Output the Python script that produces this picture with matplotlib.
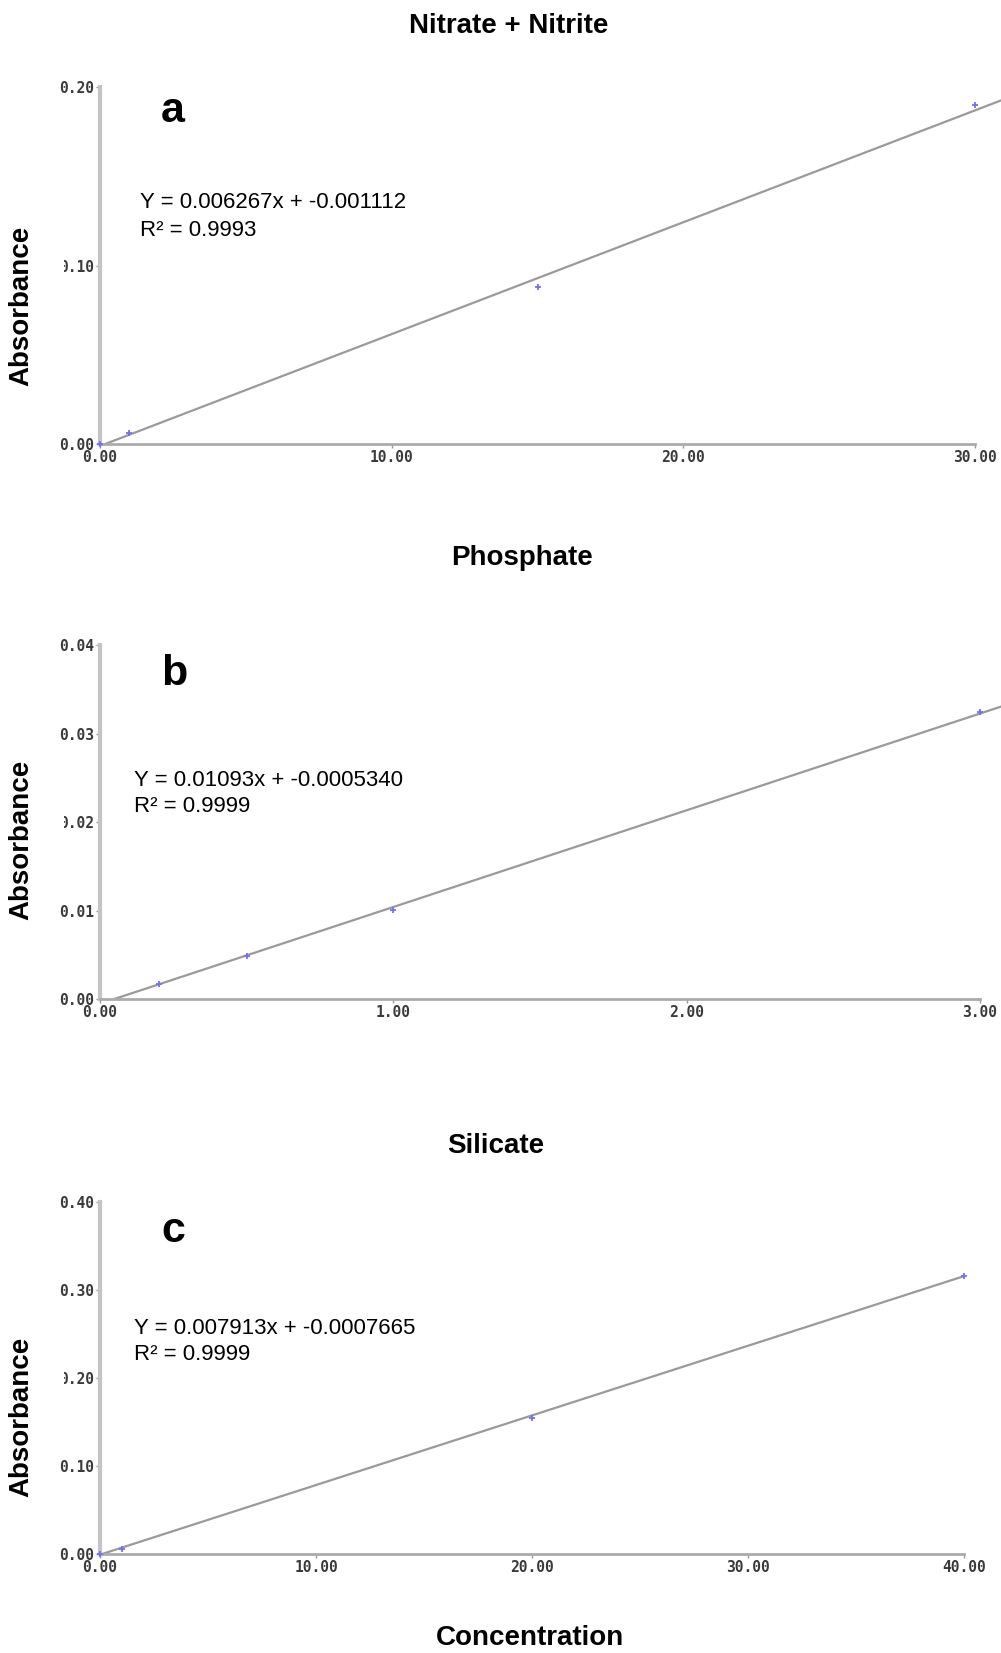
import matplotlib
matplotlib.use("Agg")
import matplotlib.pyplot as plt
from matplotlib.patches import Rectangle

titles = ["Nitrate + Nitrite", "Phosphate", "Silicate"]
panel_letters = ["a", "b", "c"]

a_x = [0, 1, 15, 30]
a_y = [0.0, 0.0062, 0.0882, 0.190]
b_x = [0.2, 0.5, 1.0, 3.0]
b_y = [0.0017, 0.0049, 0.0101, 0.0324]
c_x = [0, 1, 20, 40]
c_y = [0.0, 0.006, 0.155, 0.316]

slopes = [0.006267, 0.01093, 0.007913]
intercepts = [-0.001112, -0.0005340, -0.0007665]
eq_labels = ["Y = 0.006267x + -0.001112", "Y = 0.01093x + -0.0005340", "Y = 0.007913x + -0.0007665"]
r2_labels = ["R² = 0.9993", "R² = 0.9999", "R² = 0.9999"]

a_xticks = [0, 10, 20, 30]
b_xticks = [0, 1, 2, 3]
c_xticks = [0, 10, 20, 30, 40]
a_yticks = [0.0, 0.1, 0.2]
b_yticks = [0.0, 0.01, 0.02, 0.03, 0.04]
c_yticks = [0.0, 0.1, 0.2, 0.3, 0.4]
line_ends = [30.9, 3.1, 40.0]

W, H = 1001, 1653
fig = plt.figure(figsize=(W / 100, H / 100), dpi=100)

def fx(px):
    return px / W

def fy(py):
    return 1 - py / H

# axes boxes in pixel coords: left, right, top, bottom
boxes = [(100, 975, 87, 444), (100, 980, 645, 999), (100, 964, 1202, 1554)]
title_pos = [(509, 26), (522, 558), (496, 1146)]
letter_pos = [(173, 111), (174, 674), (173, 1231)]
eq_pos = [(140, 202, 230), (134, 780, 807), (134, 1328, 1355)]
ylabel_y = [306, 840, 1417]

xs = [a_x, b_x, c_x]
ys = [a_y, b_y, c_y]
xticks = [a_xticks, b_xticks, c_xticks]
yticks = [a_yticks, b_yticks, c_yticks]

tick_font = dict(family="DejaVu Sans Mono", weight="bold", size=10.5)

for i in range(3):
    l, r, t, b = boxes[i]
    ax = fig.add_axes([fx(l), fy(b), fx(r - l), (b - t) / H])
    xmax = xticks[i][-1]
    ymax = yticks[i][-1]
    ax.set_xlim(0, xmax)
    ax.set_ylim(0, ymax)
    for s in ["top", "right"]:
        ax.spines[s].set_visible(False)
    ax.spines["left"].set_color("#c4c4c4")
    ax.spines["left"].set_linewidth(3)
    ax.spines["bottom"].set_color("#ababab")
    ax.spines["bottom"].set_linewidth(2)
    ax.set_xticks(xticks[i])
    ax.set_yticks(yticks[i])
    ax.set_xticklabels([f"{v:.2f}" for v in xticks[i]], fontdict=tick_font, color="#3a3a3a")
    ax.set_yticklabels([f"{v:.2f}" for v in yticks[i]], fontdict=tick_font, color="#3a3a3a")
    ax.tick_params(axis="both", length=3, width=1, color="#999999", pad=1)

    m, c0 = slopes[i], intercepts[i]
    x0 = max(0.0, -c0 / m)
    x1 = line_ends[i]
    ax.plot([x0, x1], [m * x0 + c0, m * x1 + c0], color="#9a9a9a", lw=1.6,
            clip_on=False, zorder=2)
    ax.plot(xs[i], ys[i], linestyle="none", marker="+", ms=4.5, mew=1.3,
            color="#6f6fff", clip_on=False, zorder=3)

    # titles and annotations
    tx, ty = title_pos[i]
    fig.text(fx(tx), fy(ty), titles[i], ha="center", va="center",
             family="Liberation Sans", weight="bold", size=20)
    lx, ly = letter_pos[i]
    fig.text(fx(lx), fy(ly), panel_letters[i], ha="center", va="center",
             family="Liberation Sans", weight="heavy", size=31)
    ex, ey1, ey2 = eq_pos[i]
    fig.text(fx(ex), fy(ey1), eq_labels[i], ha="left", va="center",
             family="Liberation Sans", size=16)
    fig.text(fx(ex), fy(ey2), r2_labels[i], ha="left", va="center",
             family="Liberation Sans", size=16)

    # white patch partially covering the middle tick label
    mid = yticks[i][len(yticks[i]) // 2]
    mid_px = b - (b - t) * mid / ymax
    fig.add_artist(Rectangle((0, fy(mid_px + 9)), fx(64), 18 / H,
                             transform=fig.transFigure, facecolor="white",
                             edgecolor="none", zorder=5))
    fig.text(fx(21), fy(ylabel_y[i]), "Absorbance", rotation=90, ha="center",
             va="center", family="Liberation Sans", weight="bold", size=20,
             zorder=6)

fig.text(fx(530), fy(1638), "Concentration", ha="center", va="center",
         family="Liberation Sans", weight="bold", size=20)

fig.savefig("out.png", dpi=100, facecolor="white")
